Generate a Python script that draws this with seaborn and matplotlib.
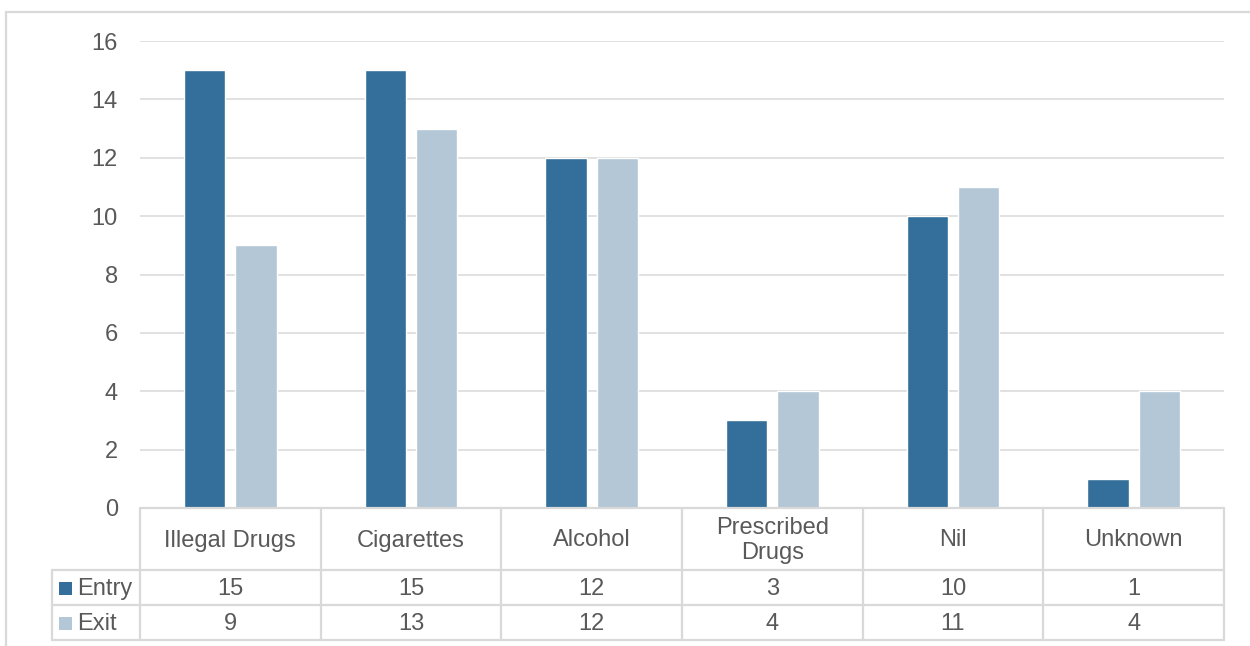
import matplotlib
matplotlib.use("Agg")
import matplotlib.pyplot as plt
import seaborn as sns
import pandas as pd
from matplotlib.lines import Line2D
from matplotlib.patches import Rectangle

categories = ["Illegal Drugs", "Cigarettes", "Alcohol", "Prescribed\nDrugs", "Nil", "Unknown"]
entry = [15, 15, 12, 3, 10, 1]
exit_ = [9, 13, 12, 4, 11, 4]
series = ["Entry", "Exit"]
yticks = [0, 2, 4, 6, 8, 10, 12, 14, 16]

colors = {"Entry": "#336f9a", "Exit": "#b3c7d7"}
text_color = "#595959"
grid_color = "#d9d9d9"
FS = 17

df = pd.DataFrame({
    "category": categories * 2,
    "series": ["Entry"] * len(categories) + ["Exit"] * len(categories),
    "value": entry + exit_,
})

sns.set_theme(style="white")
plt.rcParams["font.family"] = ["Liberation Sans", "DejaVu Sans"]

W, H = 1250, 646
fig = plt.figure(figsize=(W / 100, H / 100), dpi=100)

L, R, T, B = 140, 1224, 41, 508
ax = fig.add_axes([L / W, 1 - B / H, (R - L) / W, (B - T) / H])

sns.barplot(data=df, x="category", y="value", hue="series", order=categories,
            hue_order=series, palette=colors, width=0.57, gap=0.2,
            saturation=1, ax=ax, legend=False)

ax.set_xlim(-0.5, len(categories) - 0.5)
ax.set_ylim(0, 16)
ax.set_yticks(yticks)
ax.set_yticklabels([str(v) for v in yticks], fontsize=FS, color=text_color)
ax.tick_params(axis="y", length=0, pad=16)
ax.set_xticks([])
ax.set_xlabel("")
ax.set_ylabel("")
for s in ax.spines.values():
    s.set_visible(False)
ax.yaxis.grid(True, color=grid_color, linewidth=1.1)
ax.set_axisbelow(True)


def fx(px):
    return px / W


def fy(py):
    return 1 - py / H


def hline(x0, x1, y, lw=1.6):
    fig.add_artist(Line2D([fx(x0), fx(x1)], [fy(y), fy(y)], color=grid_color, lw=lw))


def vline(x, y0, y1, lw=1.6):
    fig.add_artist(Line2D([fx(x), fx(x)], [fy(y0), fy(y1)], color=grid_color, lw=lw))


# outer frame
hline(6, 1260, 12)
vline(6, 12, 660)

# data table
row_hdr_bot, row1_bot, row2_bot = 570, 605, 640
legend_left = 52
hline(L, R, B)
hline(legend_left, R, row_hdr_bot)
hline(legend_left, R, row1_bot)
hline(legend_left, R, row2_bot)
vline(legend_left, row_hdr_bot, row2_bot)
n = len(categories)
cw = (R - L) / n
for k in range(n + 1):
    vline(L + k * cw, B, row2_bot)

for i, cat in enumerate(categories):
    cx = L + (i + 0.5) * cw
    fig.text(fx(cx), fy((B + row_hdr_bot) / 2 + 1.5), cat, ha="center", va="center",
             fontsize=FS, color=text_color, linespacing=1.2)
    fig.text(fx(cx), fy((row_hdr_bot + row1_bot) / 2 + 1.5), str(entry[i]), ha="center",
             va="center", fontsize=FS, color=text_color)
    fig.text(fx(cx), fy((row1_bot + row2_bot) / 2 + 2), str(exit_[i]), ha="center",
             va="center", fontsize=FS, color=text_color)

for name, (y0, y1) in zip(series, [(row_hdr_bot, row1_bot), (row1_bot, row2_bot)]):
    cy = (y0 + y1) / 2 + 1
    fig.add_artist(Rectangle((fx(59), fy(cy + 6.5)), 13 / W, 13 / H,
                             facecolor=colors[name], edgecolor="none"))
    fig.text(fx(77), fy(cy + 1), name, ha="left", va="center", fontsize=FS,
             color=text_color)

fig.savefig("out.png", dpi=100)
